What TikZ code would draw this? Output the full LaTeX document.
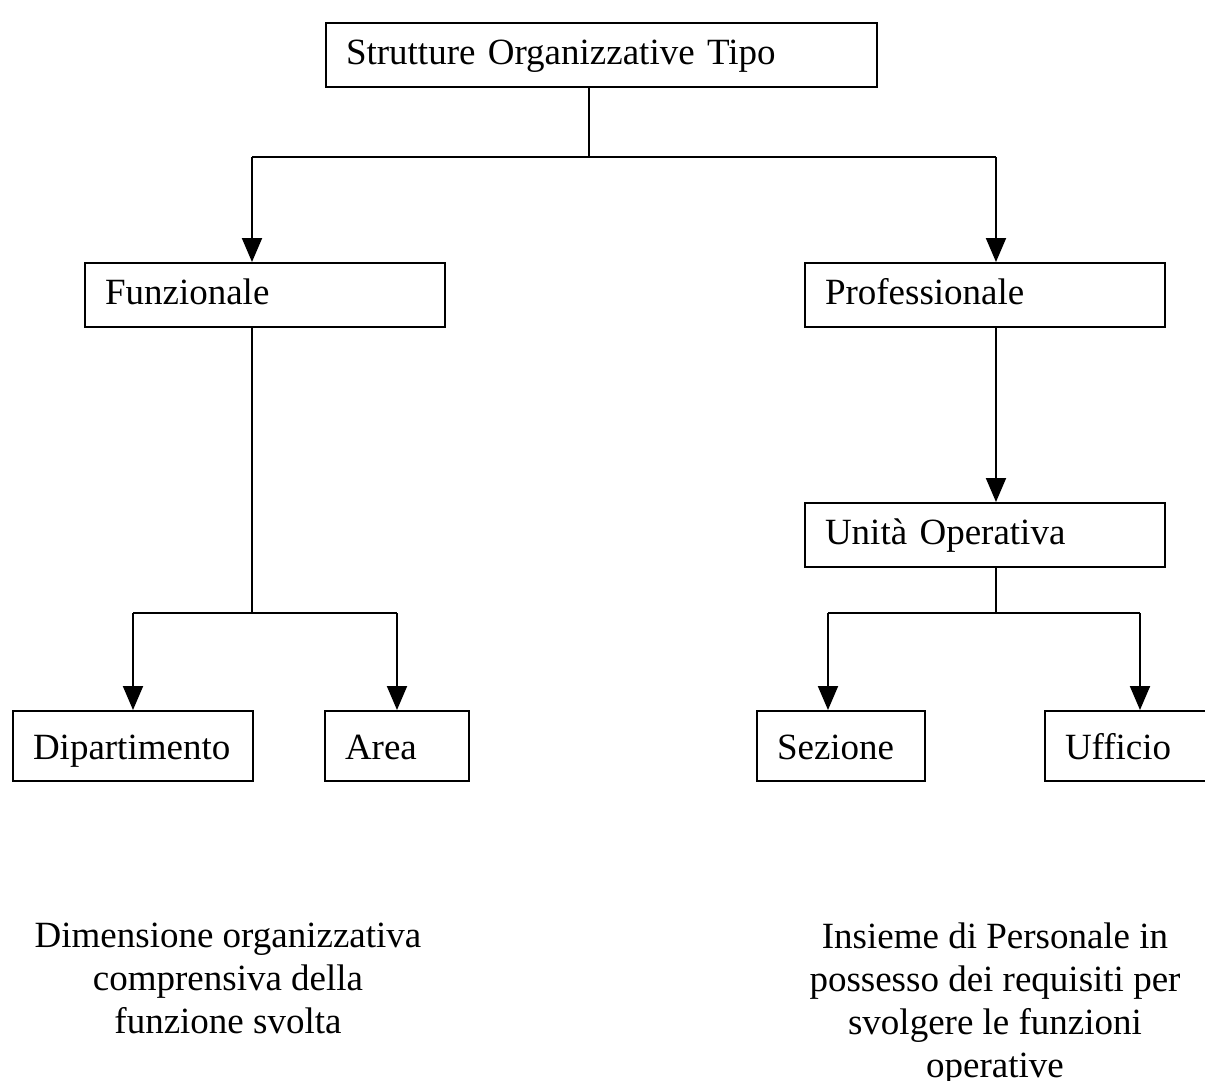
\documentclass[tikz,border=0pt]{standalone}
\usepackage{fontspec}
\setmainfont{Liberation Serif}
\usetikzlibrary{arrows.meta}
\begin{document}
\begin{tikzpicture}[x=1pt,y=-1pt,
  every node/.style={font=\fontsize{37}{43}\selectfont},
  box/.style={draw, line width=2pt, anchor=north west, inner xsep=20pt, inner ysep=0pt, align=left, text height=27pt},
  upper/.style={box, minimum height=64pt, text depth=9pt},
  lower/.style={box, minimum height=70pt, text depth=1pt},
  conn/.style={line width=2pt},
  arr/.style={line width=2pt, -{Triangle[width=20pt,length=24pt]}},
  note/.style={align=center, anchor=north}]
\useasboundingbox (0,0) rectangle (1205,1080);
% boxes
\node[upper, text width=511pt] (top) at (325,22) {Strutture Organizzative Tipo};
\node[upper, text width=320pt] (fun) at (84,262) {Funzionale};
\node[upper, text width=320pt] (pro) at (804,262) {Professionale};
\node[upper, text width=320pt] (uni) at (804,502) {Unità Operativa};
\node[lower, text width=200pt] (dip) at (12,710) {Dipartimento};
\node[lower, text width=104pt] (are) at (324,710) {Area};
\node[lower, text width=128pt] (sez) at (756,710) {Sezione};
\node[lower, text width=130pt] (uff) at (1044,710) {Ufficio};
% branching points
\coordinate (j0) at (589,157);
\coordinate (jf) at (252,157);
\coordinate (jp) at (996,157);
\coordinate (j1) at (252,613);
\coordinate (jd) at (133,613);
\coordinate (ja) at (397,613);
\coordinate (j2) at (996,613);
\coordinate (js) at (828,613);
\coordinate (ju) at (1140,613);
% connectors
\draw[conn] (j0 |- top.south) -- (j0);
\draw[conn] (jf) -- (jp);
\draw[arr] (jf) -- (jf |- fun.north);
\draw[arr] (jp) -- (jp |- pro.north);
\draw[conn] (j1 |- fun.south) -- (j1);
\draw[conn] (jd) -- (ja);
\draw[arr] (jd) -- (jd |- dip.north);
\draw[arr] (ja) -- (ja |- are.north);
\draw[arr] (j2 |- pro.south) -- (j2 |- uni.north);
\draw[conn] (j2 |- uni.south) -- (j2);
\draw[conn] (js) -- (ju);
\draw[arr] (js) -- (js |- sez.north);
\draw[arr] (ju) -- (ju |- uff.north);
% notes
\node[note] (n1) at (228,919) {Dimensione organizzativa\\comprensiva della\\funzione svolta};
\node[note] (n2) at (995,919) {Insieme di Personale in\\possesso dei requisiti per\\svolgere le funzioni\\operative};
\end{tikzpicture}
\end{document}
